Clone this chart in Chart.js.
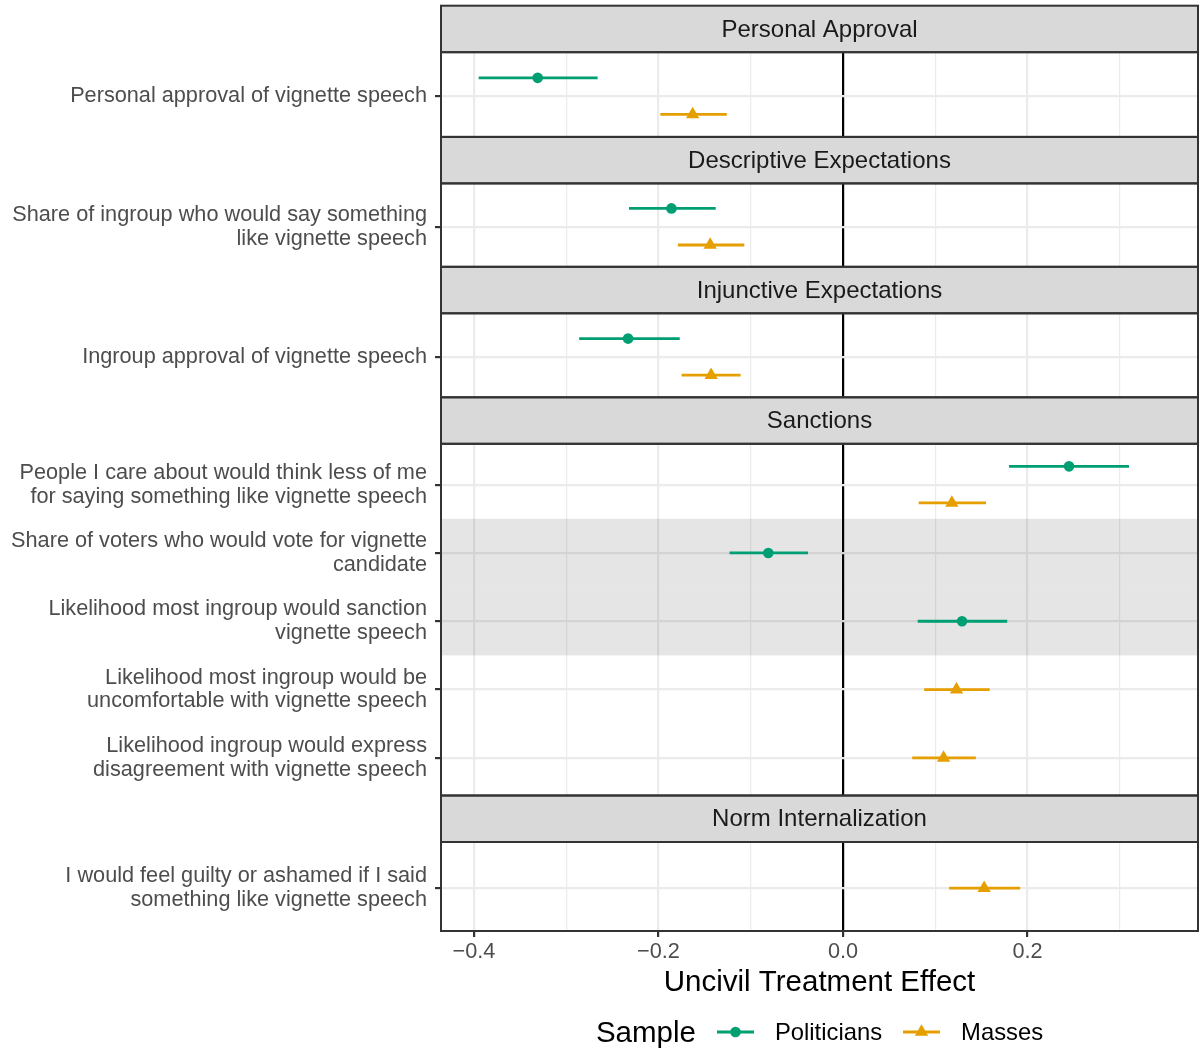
<!DOCTYPE html>
<html>
<head>
<meta charset="utf-8">
<script src="https://cdn.jsdelivr.net/npm/chart.js@4.4.0/dist/chart.umd.min.js"></script>
<style>
  html, body { margin: 0; padding: 0; background: #fff; }
  #wrap { position: relative; width: 1199px; height: 1049px; font-family: "Liberation Sans", Arial, Helvetica, sans-serif; }
  #chart { position: absolute; left: 0; top: 0; }
  #legend { position: absolute; left: 441px; width: 757px; top: 1012px; height: 40px;
            display: flex; align-items: center; justify-content: center; }
  #legend .title { font-size: 29.5px; color: #000; margin-right: 21px; }
  #legend .lbl { font-size: 23.8px; color: #000; margin-left: 21px; margin-right: 21px; }
  #legend .lbl:last-child { margin-right: 0; }
  #legend svg { display: block; }
</style>
</head>
<body>
<div id="wrap">
  <canvas id="chart" width="1199" height="1049"></canvas>
  <div id="legend"></div>
</div>
<script>
// facets and outcomes
const facets = ["Personal Approval", "Descriptive Expectations", "Injunctive Expectations", "Sanctions", "Norm Internalization"];
const outcomeLabels = [
  ["Personal approval of vignette speech"],
  ["Share of ingroup who would say something", "like vignette speech"],
  ["Ingroup approval of vignette speech"],
  ["People I care about would think less of me", "for saying something like vignette speech"],
  ["Share of voters who would vote for vignette", "candidate"],
  ["Likelihood most ingroup would sanction", "vignette speech"],
  ["Likelihood most ingroup would be", "uncomfortable with vignette speech"],
  ["Likelihood ingroup would express", "disagreement with vignette speech"],
  ["I would feel guilty or ashamed if I said", "something like vignette speech"]
];
const outcomeFacet = [0, 1, 2, 3, 3, 3, 3, 3, 4];
const highlightedRows = [4, 5];

// estimates with confidence intervals (null = not measured)
const politiciansEst  = [-0.331, -0.186, -0.233, 0.245, -0.081, 0.129, null, null, null];
const politiciansLow  = [-0.395, -0.232, -0.286, 0.180, -0.123, 0.081, null, null, null];
const politiciansHigh = [-0.266, -0.138, -0.177, 0.310, -0.038, 0.178, null, null, null];
const massesEst  = [-0.163, -0.144, -0.143, 0.118, null, null, 0.123, 0.109, 0.153];
const massesLow  = [-0.198, -0.179, -0.175, 0.082, null, null, 0.088, 0.075, 0.115];
const massesHigh = [-0.126, -0.107, -0.111, 0.155, null, null, 0.159, 0.144, 0.192];

const xTicks = [-0.4, -0.3, -0.2, -0.1, 0, 0.1, 0.2, 0.3];
const xMajorTicks = [-0.4, -0.2, 0, 0.2];
const X_MIN = -0.4358, X_MAX = 0.3848;

const GREEN = "#009E73", ORANGE = "#E69F00";
const FONT = '"Liberation Sans", Arial, Helvetica, sans-serif';

// vertical layout of the facet panels (in px from the top of the plot)
const STRIP_H = 46.5;
const PANEL_H = [84.7, 83.4, 84, 351.7, 89];
const ROW_STEP = 68.3, ROW_SHIFT = 1.6, DODGE = 18.3;

const strips = [], panels = [];
let acc = 0;
PANEL_H.forEach(h => {
  strips.push({ top: acc, bottom: acc + STRIP_H });
  acc += STRIP_H;
  panels.push({ top: acc, bottom: acc + h });
  acc += h;
});
const TOTAL = acc;

const rowPos = outcomeLabels.map((_, i) => {
  const f = outcomeFacet[i];
  const members = [];
  outcomeFacet.forEach((g, j) => { if (g === f) members.push(j); });
  const k = members.indexOf(i), n = members.length;
  const p = panels[f];
  return (p.top + p.bottom) / 2 + ROW_SHIFT + (k - (n - 1) / 2) * ROW_STEP;
});

function rowY(i, dir) {
  const both = politiciansEst[i] != null && massesEst[i] != null;
  return both ? rowPos[i] + dir * DODGE : rowPos[i];
}

function pointData(est, dir) {
  const out = [];
  est.forEach((v, i) => { if (v != null) out.push({ x: v, y: rowY(i, dir) }); });
  return out;
}

function ciData(est, lo, hi, dir) {
  const out = [];
  est.forEach((v, i) => {
    if (v == null) return;
    const y = rowY(i, dir);
    out.push({ x: lo[i], y: y }, { x: hi[i], y: y }, { x: null, y: null });
  });
  return out;
}

const isMajor = v => xMajorTicks.some(m => Math.abs(m - v) < 1e-9);
const fmtTick = v => {
  const s = Math.abs(v).toFixed(1);
  return v < -1e-9 ? "\u2212" + s : s;
};

const facetPlugin = {
  id: "facetPlugin",
  beforeDatasetsDraw(chart) {
    const { ctx, chartArea: a, scales: { y } } = chart;
    ctx.save();
    // highlighted rows
    ctx.fillStyle = "rgba(0,0,0,0.1)";
    highlightedRows.forEach(i => {
      const t = y.getPixelForValue(rowPos[i] - ROW_STEP / 2);
      const b = y.getPixelForValue(rowPos[i] + ROW_STEP / 2);
      ctx.fillRect(a.left, t, a.right - a.left, b - t);
    });
    // strips
    strips.forEach((s, f) => {
      const t = y.getPixelForValue(s.top), b = y.getPixelForValue(s.bottom);
      ctx.fillStyle = "#d9d9d9";
      ctx.fillRect(a.left, t, a.right - a.left, b - t);
      ctx.lineWidth = 2;
      ctx.strokeStyle = "#333333";
      ctx.strokeRect(a.left, t, a.right - a.left, b - t);
      ctx.fillStyle = "#1a1a1a";
      ctx.font = "24px " + FONT;
      ctx.textAlign = "center";
      ctx.textBaseline = "middle";
      ctx.fillText(facets[f], (a.left + a.right) / 2, (t + b) / 2 + 1);
    });
    ctx.restore();
  },
  afterDatasetsDraw(chart) {
    const { ctx, chartArea: a, scales: { y } } = chart;
    ctx.save();
    ctx.lineWidth = 2;
    ctx.strokeStyle = "#333333";
    panels.forEach(p => {
      const t = y.getPixelForValue(p.top), b = y.getPixelForValue(p.bottom);
      ctx.strokeRect(a.left, t, a.right - a.left, b - t);
    });
    ctx.restore();
  }
};

Chart.defaults.font.family = FONT;

new Chart(document.getElementById("chart"), {
  type: "scatter",
  data: {
    datasets: [
      {
        label: "Politicians",
        data: pointData(politiciansEst, -1),
        pointStyle: "circle",
        pointRadius: 5.3,
        pointBorderWidth: 0,
        backgroundColor: GREEN,
        borderColor: GREEN
      },
      {
        label: "Masses",
        data: pointData(massesEst, 1),
        pointStyle: "triangle",
        pointRadius: 7.7,
        pointBorderWidth: 0,
        backgroundColor: ORANGE,
        borderColor: ORANGE
      },
      {
        label: "Politicians CI",
        data: ciData(politiciansEst, politiciansLow, politiciansHigh, -1),
        showLine: true,
        spanGaps: false,
        pointRadius: 0,
        borderWidth: 2.8,
        borderColor: GREEN
      },
      {
        label: "Masses CI",
        data: ciData(massesEst, massesLow, massesHigh, 1),
        showLine: true,
        spanGaps: false,
        pointRadius: 0,
        borderWidth: 2.8,
        borderColor: ORANGE
      }
    ]
  },
  options: {
    responsive: false,
    animation: false,
    events: [],
    layout: { autoPadding: false, padding: { top: 931 - TOTAL, right: 1, left: 0, bottom: 0 } },
    plugins: {
      legend: { display: false },
      tooltip: { enabled: false }
    },
    scales: {
      x: {
        type: "linear",
        min: X_MIN,
        max: X_MAX,
        afterBuildTicks: s => { s.ticks = xTicks.map(v => ({ value: v })); },
        afterFit: s => { s.height = 1049 - 931; s.paddingLeft = 0; s.paddingRight = 0; },
        ticks: {
          autoSkip: false,
          maxRotation: 0,
          padding: 2,
          color: "#4d4d4d",
          font: { size: 21.7 },
          callback: v => isMajor(v) ? fmtTick(v) : ""
        },
        grid: {
          color: c => (c.tick && Math.abs(c.tick.value) < 1e-9) ? "#000000" : "#ebebeb",
          lineWidth: c => (c.tick && isMajor(c.tick.value)) ? 2.2 : 1.2,
          tickColor: c => (c.tick && isMajor(c.tick.value)) ? "#333333" : "rgba(0,0,0,0)",
          tickLength: 6
        },
        border: { display: false },
        title: {
          display: true,
          text: "Uncivil Treatment Effect",
          color: "#000000",
          font: { size: 29.5 },
          padding: { top: 0, bottom: 48 }
        }
      },
      y: {
        type: "linear",
        reverse: true,
        min: 0,
        max: TOTAL,
        afterBuildTicks: s => { s.ticks = rowPos.map(v => ({ value: v })); },
        afterFit: s => { s.width = 441; s.paddingTop = 0; s.paddingBottom = 0; },
        ticks: {
          autoSkip: false,
          padding: 8,
          color: "#4d4d4d",
          font: { size: 21.7, lineHeight: 1.1 },
          callback: (v, i) => outcomeLabels[i]
        },
        grid: {
          color: "#ebebeb",
          lineWidth: 2.2,
          tickColor: "#333333",
          tickLength: 6
        },
        border: { display: false }
      }
    }
  },
  plugins: [facetPlugin]
});

// legend
const legendItems = [
  { label: "Politicians", color: GREEN, shape: "circle" },
  { label: "Masses", color: ORANGE, shape: "triangle" }
];
const legend = document.getElementById("legend");
let html = '<span class="title">Sample</span>';
legendItems.forEach(item => {
  const marker = item.shape === "circle"
    ? `<circle cx="18.5" cy="10" r="5.3" fill="${item.color}"/>`
    : `<polygon points="18.5,2.3 25.17,13.85 11.83,13.85" fill="${item.color}"/>`;
  html += `<svg width="37" height="20"><line x1="0" y1="10" x2="37" y2="10" stroke="${item.color}" stroke-width="2.8"/>${marker}</svg>`;
  html += `<span class="lbl">${item.label}</span>`;
});
legend.innerHTML = html;
</script>
</body>
</html>
